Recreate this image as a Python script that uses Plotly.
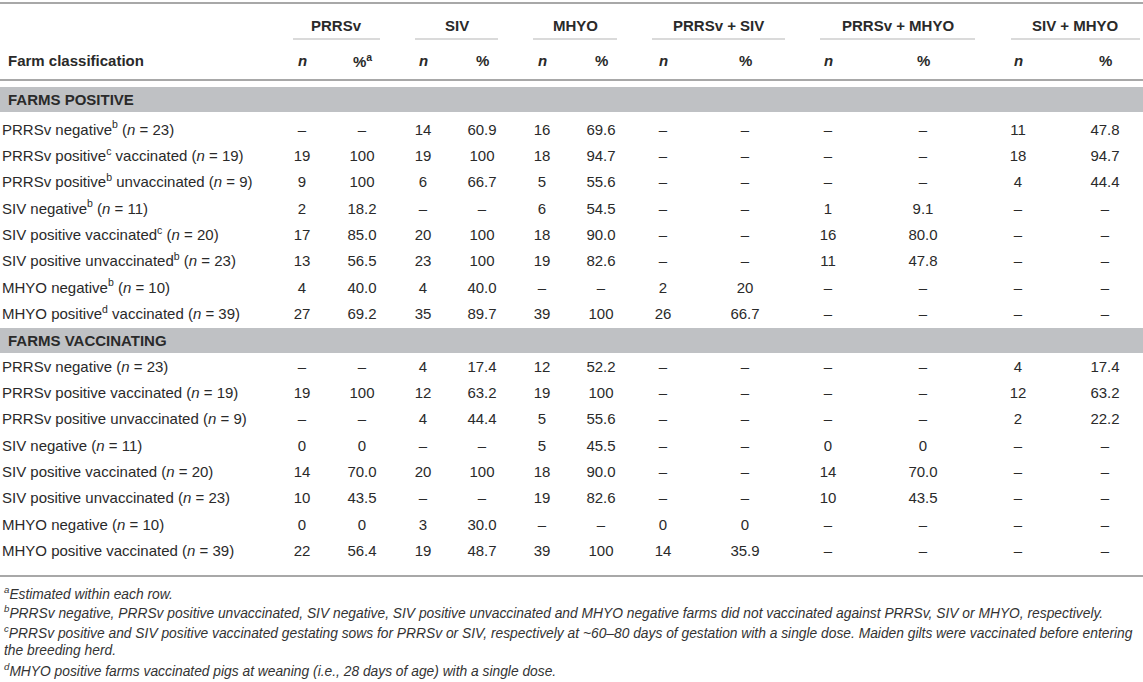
import plotly.graph_objects as go

groups = ['PRRSv', 'SIV', 'MHYO', 'PRRSv + SIV', 'PRRSv + MHYO', 'SIV + MHYO']
sections = ['FARMS POSITIVE', 'FARMS VACCINATING']

pos_labels = [
    'PRRSv negative<sup>b</sup> (<i>n</i> = 23)',
    'PRRSv positive<sup>c</sup> vaccinated (<i>n</i> = 19)',
    'PRRSv positive<sup>b</sup> unvaccinated (<i>n</i> = 9)',
    'SIV negative<sup>b</sup> (<i>n</i> = 11)',
    'SIV positive vaccinated<sup>c</sup> (<i>n</i> = 20)',
    'SIV positive unvaccinated<sup>b</sup> (<i>n</i> = 23)',
    'MHYO negative<sup>b</sup> (<i>n</i> = 10)',
    'MHYO positive<sup>d</sup> vaccinated (<i>n</i> = 39)',
]
vac_labels = [
    'PRRSv negative (<i>n</i> = 23)',
    'PRRSv positive vaccinated (<i>n</i> = 19)',
    'PRRSv positive unvaccinated (<i>n</i> = 9)',
    'SIV negative (<i>n</i> = 11)',
    'SIV positive vaccinated (<i>n</i> = 20)',
    'SIV positive unvaccinated (<i>n</i> = 23)',
    'MHYO negative (<i>n</i> = 10)',
    'MHYO positive vaccinated (<i>n</i> = 39)',
]

# FARMS POSITIVE block, None = dash
pos_prrsv_n = [None, 19, 9, 2, 17, 13, 4, 27]
pos_prrsv_pct = [None, '100', '100', '18.2', '85.0', '56.5', '40.0', '69.2']
pos_siv_n = [14, 19, 6, None, 20, 23, 4, 35]
pos_siv_pct = ['60.9', '100', '66.7', None, '100', '100', '40.0', '89.7']
pos_mhyo_n = [16, 18, 5, 6, 18, 19, None, 39]
pos_mhyo_pct = ['69.6', '94.7', '55.6', '54.5', '90.0', '82.6', None, '100']
pos_ps_n = [None, None, None, None, None, None, 2, 26]
pos_ps_pct = [None, None, None, None, None, None, '20', '66.7']
pos_pm_n = [None, None, None, 1, 16, 11, None, None]
pos_pm_pct = [None, None, None, '9.1', '80.0', '47.8', None, None]
pos_sm_n = [11, 18, 4, None, None, None, None, None]
pos_sm_pct = ['47.8', '94.7', '44.4', None, None, None, None, None]

# FARMS VACCINATING block
vac_prrsv_n = [None, 19, None, 0, 14, 10, 0, 22]
vac_prrsv_pct = [None, '100', None, '0', '70.0', '43.5', '0', '56.4']
vac_siv_n = [4, 12, 4, None, 20, None, 3, 19]
vac_siv_pct = ['17.4', '63.2', '44.4', None, '100', None, '30.0', '48.7']
vac_mhyo_n = [12, 19, 5, 5, 18, 19, None, 39]
vac_mhyo_pct = ['52.2', '100', '55.6', '45.5', '90.0', '82.6', None, '100']
vac_ps_n = [None, None, None, None, None, None, 0, 14]
vac_ps_pct = [None, None, None, None, None, None, '0', '35.9']
vac_pm_n = [None, None, None, 0, 14, 10, None, None]
vac_pm_pct = [None, None, None, '0', '70.0', '43.5', None, None]
vac_sm_n = [4, 12, 2, None, None, None, None, None]
vac_sm_pct = ['17.4', '63.2', '22.2', None, None, None, None, None]

footnotes = [
    '<sup>a</sup>Estimated within each row.',
    '<sup>b</sup>PRRSv negative, PRRSv positive unvaccinated, SIV negative, SIV positive unvaccinated and MHYO negative '
    'farms did not vaccinated against PRRSv, SIV or MHYO, respectively.',
    '<sup>c</sup>PRRSv positive and SIV positive vaccinated gestating sows for PRRSv or SIV, respectively at ~60–80 days '
    'of gestation with a single dose. Maiden gilts were vaccinated before entering',
    'the breeding herd.',
    '<sup>d</sup>MHYO positive farms vaccinated pigs at weaning (i.e., 28 days of age) with a single dose.',
]

blocks = [
    (pos_labels, [(pos_prrsv_n, pos_prrsv_pct), (pos_siv_n, pos_siv_pct), (pos_mhyo_n, pos_mhyo_pct),
                  (pos_ps_n, pos_ps_pct), (pos_pm_n, pos_pm_pct), (pos_sm_n, pos_sm_pct)]),
    (vac_labels, [(vac_prrsv_n, vac_prrsv_pct), (vac_siv_n, vac_siv_pct), (vac_mhyo_n, vac_mhyo_pct),
                  (vac_ps_n, vac_ps_pct), (vac_pm_n, vac_pm_pct), (vac_sm_n, vac_sm_pct)]),
]

# layout in pixels
W, H = 1143, 682
col_x = [(302, 362), (423, 482), (542, 601), (663, 745), (828, 923), (1018, 1105)]
line_span = [(293, 380), (415, 498), (533, 617), (652, 785), (820, 975), (1011, 1140)]
band_y = [99.5, 340.5]
row_y0 = [131, 368]
step = 26.3
txt = '#2a2a2a'
font = 'Liberation Sans, Arial, sans-serif'
fs = 15


def fmt(v):
    return '–' if v is None else str(v)


fig = go.Figure()
shapes = []
annotations = []

for b, (labels, cols) in enumerate(blocks):
    ys = [row_y0[b] + step * i for i in range(len(labels))]
    shapes.append(dict(type='rect', xref='x', yref='y', x0=0, x1=W, y0=band_y[b] - 12.5, y1=band_y[b] + 12.5,
                       fillcolor='#bfc1c4', line=dict(width=0), layer='below'))
    annotations.append(dict(x=6, y=band_y[b], xref='x', yref='y', text='<b>' + sections[b] + '</b>',
                            showarrow=False, xanchor='left', yanchor='middle',
                            font=dict(family=font, size=fs, color=txt)))
    fig.add_trace(go.Scatter(x=[2] * len(labels), y=ys, text=labels, mode='text', textposition='middle right',
                             textfont=dict(family=font, size=fs, color=txt), cliponaxis=False,
                             hoverinfo='skip', showlegend=False))
    for g, (n_vals, pct_vals) in enumerate(cols):
        for xc, vals in zip(col_x[g], (n_vals, pct_vals)):
            fig.add_trace(go.Scatter(x=[xc] * len(vals), y=ys, text=[fmt(v) for v in vals], mode='text',
                                     textposition='middle center',
                                     textfont=dict(family=font, size=fs, color=txt), cliponaxis=False,
                                     hoverinfo='skip', showlegend=False))

# header
for g, name in enumerate(groups):
    x0, x1 = line_span[g]
    annotations.append(dict(x=(x0 + x1) / 2, y=25, xref='x', yref='y', text='<b>' + name + '</b>',
                            showarrow=False, xanchor='center', yanchor='middle',
                            font=dict(family=font, size=fs, color=txt)))
    shapes.append(dict(type='line', xref='x', yref='y', x0=x0, x1=x1, y0=39, y1=39,
                       line=dict(color='#b5b5b5', width=1)))
    pct_lab = '<b>%<sup>a</sup></b>' if g == 0 else '<b>%</b>'
    for xc, lab in zip(col_x[g], ['<b><i>n</i></b>', pct_lab]):
        annotations.append(dict(x=xc, y=60, xref='x', yref='y', text=lab, showarrow=False,
                                xanchor='center', yanchor='middle',
                                font=dict(family=font, size=fs, color=txt)))

annotations.append(dict(x=6, y=60, xref='x', yref='y', text='<b>Farm classification</b>', showarrow=False,
                        xanchor='left', yanchor='middle', font=dict(family=font, size=fs, color=txt)))

for yy in (3, 80, 576):
    shapes.append(dict(type='line', xref='x', yref='y', x0=0, x1=W, y0=yy, y1=yy,
                       line=dict(color='#a8a8a8', width=2)))

note_y = [593, 612, 632, 650, 670]
for yy, t in zip(note_y, footnotes):
    annotations.append(dict(x=2, y=yy, xref='x', yref='y', text='<i>' + t + '</i>', showarrow=False,
                            xanchor='left', yanchor='middle', font=dict(family=font, size=13.8, color='#333')))

fig.update_layout(
    width=W, height=H, margin=dict(l=0, r=0, t=0, b=0),
    paper_bgcolor='white', plot_bgcolor='white',
    xaxis=dict(range=[0, W], visible=False, fixedrange=True),
    yaxis=dict(range=[H, 0], visible=False, fixedrange=True),
    shapes=shapes, annotations=annotations,
)

# page body has a default 8px margin; drop it so the figure fills the window
fig.write_html("out.html", config={'displayModeBar': False},
               post_script="document.body.style.margin='0';")
